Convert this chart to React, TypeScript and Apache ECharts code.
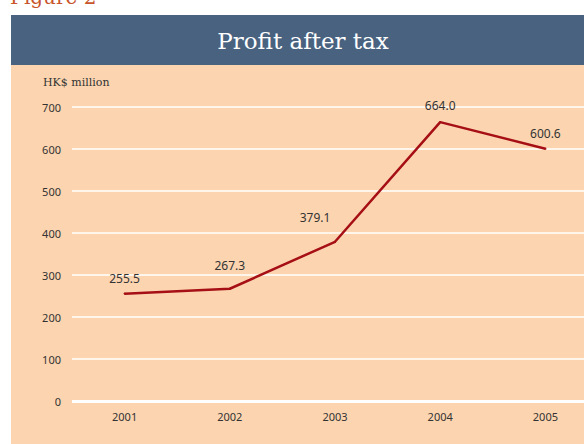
import React, { useEffect, useRef } from "react";
import * as echarts from "echarts";

const categories = ["2001", "2002", "2003", "2004", "2005"];
const profit = [255.5, 267.3, 379.1, 664.0, 600.6];
const labelOffsets = [[0, 0], [0, -8], [-20, -9], [0, -2], [0, 0]];

export default function App() {
  const ref = useRef<HTMLDivElement>(null);
  useEffect(() => {
    const chart = echarts.init(ref.current!, null, { renderer: "svg" });
    chart.setOption({
      animation: false,
      backgroundColor: "#ffffff",
      graphic: [
        { type: "rect", shape: { x: 11, y: 65, width: 600, height: 379 }, style: { fill: "#fcd5b0" }, z: -10 },
        { type: "rect", shape: { x: 11, y: 15, width: 600, height: 50 }, style: { fill: "#48627f" }, z: -10 },
        {
          type: "text", x: 303, y: 41,
          style: { text: "Profit after tax", fill: "#ffffff", font: "23px 'DejaVu Serif', serif", textAlign: "center", textVerticalAlign: "middle" },
        },
        {
          type: "text", x: 10, y: 7,
          style: { text: "Figure 2", fill: "#c8552a", font: "20px 'DejaVu Serif', serif", textAlign: "left", textVerticalAlign: "bottom" },
        },
        {
          type: "text", x: 43, y: 82,
          style: { text: "HK$ million", fill: "#333333", font: "11px 'DejaVu Serif', serif", textAlign: "left", textVerticalAlign: "middle" },
        },
      ],
      grid: { left: 72, top: 107, width: 526, height: 294, containLabel: false },
      xAxis: {
        type: "category",
        data: categories,
        boundaryGap: true,
        axisLine: { show: false },
        axisTick: { show: false },
        axisLabel: { color: "#333333", fontSize: 11, fontFamily: "'Noto Sans', sans-serif", margin: 10 },
      },
      yAxis: {
        type: "value",
        min: 0,
        max: 700,
        interval: 100,
        axisLine: { show: false },
        axisTick: { show: false },
        axisLabel: { color: "#333333", fontSize: 11, fontFamily: "'Noto Sans', sans-serif", margin: 11 },
        splitLine: {
          lineStyle: { color: ["#ffffff"], width: 1.5 },
        },
      },
      series: [
        {
          type: "line",
          data: profit.map((v, i) => ({
            value: v,
            label: { offset: labelOffsets[i] },
          })),
          symbol: "circle",
          symbolSize: 2,
          showSymbol: true,
          itemStyle: { color: "#a50f15" },
          lineStyle: { color: "#a50f15", width: 2.5 },
          label: {
            show: true,
            position: "top",
            distance: 8,
            color: "#333333",
            fontSize: 12,
            fontFamily: "'Noto Sans', sans-serif",
            formatter: (p: any) => Number(p.value).toFixed(1),
          },
          markLine: {
            silent: true,
            symbol: "none",
            label: { show: false },
            lineStyle: { color: "#ffffff", width: 3, type: "solid" },
            data: [{ yAxis: 0 }],
            z: 1,
          },
          z: 5,
        },
      ],
    });
    return () => chart.dispose();
  }, []);
  return (
    <div style={{ position: "fixed", left: 0, top: 0, width: 584, height: 444, overflow: "hidden" }}>
      <div ref={ref} style={{ width: 600, height: 444 }} />
    </div>
  );
}
